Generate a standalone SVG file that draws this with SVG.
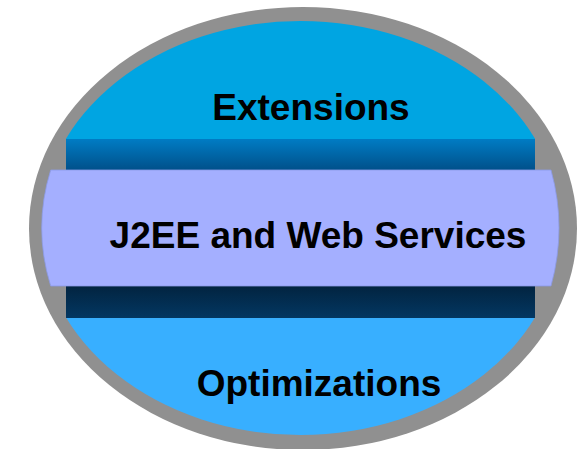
<svg xmlns="http://www.w3.org/2000/svg" width="582" height="449" viewBox="0 0 582 449">
  <style>
    .label { font-family: "Liberation Sans", Arial, sans-serif; font-weight: bold; font-size: 37px; fill: #000000; text-anchor: middle; }
  </style>
  <defs>
    <linearGradient id="bandTop" x1="0" y1="0" x2="0" y2="1">
      <stop offset="0" stop-color="#007CC4"/>
      <stop offset="1" stop-color="#00508A"/>
    </linearGradient>
    <linearGradient id="bandBottom" x1="0" y1="0" x2="0" y2="1">
      <stop offset="0" stop-color="#022440"/>
      <stop offset="1" stop-color="#033762"/>
    </linearGradient>
    <clipPath id="innerClip">
      <ellipse cx="300.5" cy="228" rx="260" ry="207"/>
    </clipPath>
  </defs>

  <g id="ring">
    <ellipse cx="303" cy="228.5" rx="274" ry="221.5" fill="#909090"/>
  </g>

  <g id="extensions">
    <rect x="0" y="0" width="582" height="139" fill="#00A5E2" clip-path="url(#innerClip)"/>
    <text class="label" x="311" y="120">Extensions</text>
  </g>

  <g id="optimizations">
    <rect x="0" y="318" width="582" height="131" fill="#38AFFF" clip-path="url(#innerClip)"/>
    <text class="label" x="319" y="396">Optimizations</text>
  </g>

  <g id="band">
    <rect x="66" y="139" width="469" height="31" fill="url(#bandTop)"/>
    <rect x="66" y="286" width="469" height="32" fill="url(#bandBottom)"/>
  </g>

  <g id="j2ee">
    <path d="M50.7,170 L551,170 Q567,228 551,286 L50.7,286 Q32.7,228 50.7,170 Z" fill="#A4AFFF" stroke="#8C9AE6" stroke-width="0.8"/>
    <text class="label" x="318" y="248">J2EE and Web Services</text>
  </g>
</svg>
